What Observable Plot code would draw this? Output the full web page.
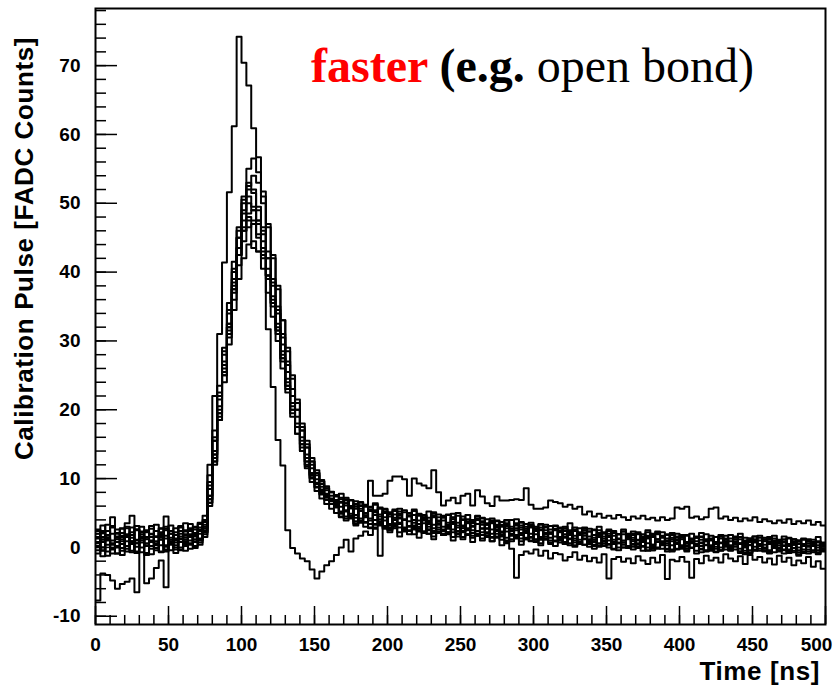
<!DOCTYPE html>
<html>
<head>
<meta charset="utf-8">
<script src="https://cdn.jsdelivr.net/npm/d3@7"></script>
<script src="https://cdn.jsdelivr.net/npm/@observablehq/plot@0.6"></script>
<style>
  html, body { margin: 0; padding: 0; background: #fff; }
  #chart svg { display: block; }
</style>
</head>
<body>
<div id="chart"></div>
<script>
// ---- Data: calibration pulses, 150 bins of 500/150 ns each ----
const nBins = 150;
const timeMax = 500;

const fastPulse = [
  -7.7,-3.8,-4.0,-4.8,-6.0,-5.3,-5.0,-4.5,-6.5,1.5,
  -5.2,-4.5,-3.0,-1.9,-5.8,0.5,1.2,-0.4,0.8,1.5,
  0.2,1.0,2.2,12,22,31,41.4,51.6,61.2,74.2,
  70.4,67.1,60.9,56.7,51.7,31.7,23.3,15.6,11.9,2.5,
  -0.1,-0.9,-1.6,-2.0,-3.2,-4.5,-3.5,-2.6,-2.0,-1.1,
  0.0,1.1,-0.6,1.3,1.7,2.3,1.8,2.9,3.5,2.7,
  2.2,3.0,1.6,2.5,1.9,2.8,1.4,2.3,2.0,1.2,
  2.6,1.8,2.1,1.0,2.4,1.5,1.9,0.8,2.0,1.3,
  1.7,0.9,1.5,1.9,0.6,1.2,1.6,0.4,1.4,0.9,
  1.1,0.3,1.3,0.7,0.2,1.0,0.5,1.2,0.1,0.8,
  0.4,1.0,-0.2,0.6,0.9,0.0,0.5,-0.4,0.7,0.2,
  -0.3,0.6,0.1,-0.5,0.4,0.8,-0.2,0.3,-0.6,0.5,
  0.0,-0.4,0.6,0.2,-0.7,0.3,-0.1,0.5,-0.5,0.1,
  -0.3,0.4,-0.8,0.0,0.3,-0.5,0.2,-0.2,-0.9,0.1,
  -0.4,0.3,-0.6,-0.1,-1.0,0.2,-0.3,-0.7,0.0,-0.5
];

const pulseA = [
  2.6,-0.4,1.8,3.1,0.2,-1.1,1.5,2.9,0.6,1.9,
  -0.8,0.9,3.3,1.2,-0.3,2.4,0.7,1.6,3.5,0.4,
  2.1,3.4,1.5,6.5,12.5,19,25.5,32,39,45,
  51,55,56.5,54.5,51,47,42.5,38,33,28.5,
  24.5,21,17.5,15,12.5,10.8,9.6,8.6,8.0,7.5,
  7.8,5.2,6.9,4.3,6.1,3.6,5.8,6.4,3.2,5.0,
  2.7,5.3,4.9,2.4,4.6,5.5,2.8,3.9,5.2,2.1,
  4.8,3.0,1.9,4.4,5.0,2.3,3.6,1.7,4.5,3.8,
  1.6,4.2,3.3,1.1,3.9,2.0,4.1,0.9,2.7,3.6,
  0.8,3.4,2.5,0.5,3.1,1.2,2.8,3.5,0.3,2.2,
  2.9,0.1,1.8,3.0,0.6,2.4,-0.3,1.9,2.6,0.2,
  2.3,1.0,-0.5,2.5,1.6,0.0,2.2,-0.6,1.4,2.0,
  -0.2,1.7,0.9,-0.9,2.1,0.4,1.2,-0.7,1.8,0.5,
  -0.4,1.5,2.0,-1.0,0.8,1.6,-0.2,1.1,-0.8,1.7,
  0.3,-0.9,1.4,0.6,-1.2,1.3,0.1,-0.5,1.5,-0.3
];

const pulseB = [
  0.1,2.2,1.4,-0.9,0.8,2.7,1.9,-0.5,1.1,3.0,
  1.5,-0.2,2.4,0.3,1.7,3.2,0.0,2.0,0.9,2.6,
  0.8,2.9,3.7,8.5,15.5,22,28,34.5,40.5,46,
  50.5,53,52,49.5,46,42,38,34,29.5,25.5,
  22,19,16,13.5,11.5,9.9,8.8,7.8,7.1,6.6,
  4.9,6.8,4.4,6.2,3.8,5.9,3.4,5.1,5.6,2.9,
  5.0,3.3,4.7,5.4,2.5,3.6,4.9,2.2,4.3,4.6,
  2.1,3.9,4.7,2.6,3.2,4.5,1.8,3.7,2.4,4.2,
  3.5,1.5,3.8,2.2,3.1,4.0,1.3,2.9,3.4,1.0,
  2.6,3.3,1.1,2.0,3.2,0.7,2.4,1.3,2.9,0.6,
  1.7,2.7,0.4,2.1,1.0,2.6,0.8,0.0,2.3,1.4,
  0.1,2.0,1.2,-0.4,1.8,2.3,0.3,1.0,2.1,-0.3,
  1.5,0.6,2.0,-0.5,1.1,1.9,0.2,-0.6,1.6,0.9,
  1.8,-0.3,0.5,1.4,-0.7,1.2,1.7,0.0,-0.4,1.3,
  0.7,1.6,-0.8,0.4,1.0,-0.6,1.2,0.8,-1.0,0.6
];

const pulseC = [
  1.3,0.0,-1.2,2.0,1.6,-0.1,2.8,0.5,1.0,2.3,
  0.2,1.9,0.6,-0.7,2.5,1.1,0.3,2.9,1.4,-0.2,
  1.8,2.5,4.6,10.5,17,23.5,29,35.5,41.5,46.5,
  50,51,49.5,47,43.5,39.5,35.5,31.5,27.5,23.5,
  20,17.5,14.5,12,10.2,8.8,7.9,7.2,6.7,6.0,
  6.5,4.2,5.7,3.5,6.0,4.9,2.9,5.3,4.1,5.6,
  2.9,4.8,3.4,2.5,4.6,4.0,2.3,4.4,3.0,4.5,
  3.9,1.8,3.6,4.3,2.0,2.8,4.1,2.5,1.7,3.6,
  2.8,3.9,1.6,3.2,2.3,0.9,3.4,2.6,1.2,3.1,
  1.9,0.6,2.9,2.2,0.9,2.7,1.4,0.3,2.5,1.8,
  0.4,2.3,1.1,0.1,2.0,1.5,-0.2,1.9,0.7,1.2,
  2.0,-0.1,1.0,1.7,-0.4,0.8,1.5,0.6,-0.3,1.6,
  1.2,-0.6,0.9,1.4,0.2,-0.5,1.7,0.6,0.0,1.3,
  -0.5,0.6,1.5,0.2,-0.9,1.0,0.4,1.4,-0.6,0.5,
  1.1,-0.3,0.2,1.2,-0.7,0.5,0.9,-0.4,0.8,0.1
];

const pulseD = [
  -0.4,1.1,2.4,0.6,-0.9,1.5,0.9,2.2,-0.6,0.7,
  2.5,1.0,-0.4,1.8,2.7,0.4,-0.8,1.2,2.3,1.9,
  -0.1,2.0,2.2,7.5,14,20.5,26.5,32.5,38.5,43.5,
  47.5,50,49,47.5,44.5,40.5,36.5,32.5,28.5,24.5,
  21,18,15.5,13,10.8,9.4,8.4,7.5,6.9,6.4,
  5.2,7.0,4.6,5.6,6.1,3.7,5.5,4.0,3.3,5.2,
  4.5,2.8,4.2,5.1,3.1,2.9,4.8,3.5,2.6,4.4,
  2.9,4.5,3.1,2.2,4.6,2.4,3.5,4.0,1.9,3.3,
  4.1,2.0,2.4,3.7,1.4,3.0,3.5,1.8,2.1,3.3,
  1.2,2.5,3.0,1.4,1.6,2.9,0.8,2.3,2.6,0.5,
  2.2,1.0,2.5,0.3,1.6,2.4,0.5,1.2,2.3,-0.1,
  1.4,1.9,0.2,1.6,0.4,2.1,0.9,-0.2,1.8,0.7,
  0.3,1.8,-0.1,0.9,1.5,-0.4,1.1,0.5,1.6,-0.3,
  0.9,1.4,-0.6,0.7,1.3,0.1,-0.5,1.2,0.8,-0.7,
  1.0,0.2,1.3,-0.5,0.6,1.1,-0.9,0.7,0.3,-0.2
];

const pulseE = [
  2.0,1.2,-0.6,0.4,2.6,1.7,-0.2,0.9,3.1,1.3,
  0.3,-1.0,1.6,2.2,0.1,1.4,2.8,0.8,-0.5,1.5,
  3.0,1.3,1.9,6.5,12.5,19.5,25.5,31.5,37,42.5,
  46.5,48.5,49,47.5,45.5,42,38.5,34.5,30.5,26.5,
  23,20,17,14.5,12,10.5,9.2,8.3,7.5,6.9,
  7.2,5.4,4.6,6.7,4.2,6.0,5.3,3.4,5.8,3.9,
  3.2,5.5,4.4,2.7,5.0,3.1,4.6,2.3,3.9,5.1,
  3.5,2.4,4.8,3.7,2.0,4.1,2.8,3.5,4.6,1.8,
  3.3,2.6,3.9,1.6,3.5,1.9,2.5,3.6,1.2,2.9,
  3.0,1.5,1.9,3.1,0.9,2.2,2.7,0.6,1.7,2.8,
  1.2,0.5,2.6,1.8,0.2,2.0,1.1,1.9,0.0,1.4,
  1.8,0.4,1.3,2.2,-0.1,1.2,0.7,1.8,-0.4,1.0,
  1.5,0.1,0.7,1.6,-0.3,1.0,1.3,-0.2,0.6,1.7,
  0.0,0.9,1.2,-0.8,0.4,1.6,0.3,-0.4,1.1,0.8,
  -0.6,0.9,0.5,1.2,-0.4,0.3,1.0,0.6,-0.8,0.4
];

const pulseG = [
  0.6,2.4,1.0,-0.3,1.4,2.1,0.2,1.8,2.5,-0.7,
  1.2,2.0,0.5,1.1,3.0,0.8,-0.3,2.4,1.7,0.6,
  2.6,1.1,3.0,7.5,13.5,19.5,25,30.5,36,41,
  44.5,46.5,47,45,42.5,39,35,31,27,23.5,
  20,17.5,15,12.5,10.5,9.2,8.2,7.4,6.8,6.2,
  6.6,4.5,5.8,6.3,3.9,4.6,5.9,3.3,4.8,5.1,
  3.4,4.1,5.2,2.9,3.8,4.7,2.5,4.2,3.4,2.8,
  4.4,2.6,3.3,4.9,2.3,3.0,3.8,2.1,4.0,2.7,
  2.2,3.6,2.9,1.7,3.3,2.4,1.5,3.2,2.7,1.4,
  2.8,1.1,2.1,2.6,1.0,2.4,1.6,2.2,0.7,1.9,
  2.5,0.8,1.4,2.0,0.3,1.7,2.1,0.6,1.0,2.0,
  0.4,1.1,1.9,0.0,1.5,0.9,1.7,-0.3,1.2,0.6,
  1.6,0.2,0.8,1.4,-0.2,0.9,0.3,1.5,-0.4,0.8,
  1.3,0.1,0.6,-0.5,1.1,0.7,1.4,-0.1,0.5,1.0,
  -0.2,0.8,0.4,-0.7,1.0,0.2,0.6,1.1,-0.5,0.7
];

const pulseH = [
  1.5,3.2,0.4,1.0,2.1,-0.5,1.8,0.9,2.6,0.0,
  1.4,2.7,0.9,-0.6,1.3,2.0,1.0,3.1,0.2,1.7,
  1.2,2.4,3.3,9,15.5,21.5,27,32.5,38,42.5,
  46,47.5,43.5,43,42,39.5,36,32,28,24,
  20.5,17.5,15,12.5,10.6,9.3,8.3,7.6,7.0,6.4,
  5.0,6.4,5.7,3.8,5.6,4.4,3.9,5.4,4.5,3.1,
  5.1,4.3,2.9,4.0,4.9,3.2,3.0,4.6,3.7,2.4,
  3.8,4.3,2.2,3.4,2.9,4.0,2.5,3.1,4.2,2.2,
  2.7,3.5,2.0,3.3,2.8,1.7,3.2,2.1,3.0,1.5,
  2.4,2.9,1.3,2.0,2.6,1.2,1.9,2.5,1.0,2.1,
  1.3,2.3,0.9,1.5,2.2,0.4,1.7,1.3,0.4,1.8,
  1.1,-0.1,1.6,1.3,0.2,1.9,0.5,1.3,0.9,-0.2,
  1.4,0.8,0.0,1.5,0.6,1.2,-0.5,0.8,1.3,0.3,
  -0.1,1.2,0.6,1.0,-0.4,0.9,0.5,-0.6,1.3,0.2,
  0.8,-0.4,0.5,1.1,0.0,-0.3,0.9,0.2,0.7,-0.6
];

const pulseI = [
  0.8,-0.5,1.7,2.9,0.0,1.2,3.0,0.7,-0.8,1.6,
  2.3,0.2,1.5,2.8,-0.4,0.9,2.2,1.3,0.5,2.8,
  1.9,0.7,2.8,6.0,12,18.5,25,31,37.5,43.5,
  48.5,52.5,54,53,50,46.5,42,37.5,33,29,
  25,21.5,18,15.5,13,11.2,9.8,8.9,8.1,7.4,
  5.9,7.2,6.0,4.7,6.5,5.0,4.2,6.2,3.8,5.5,
  4.8,3.5,5.6,4.1,3.0,5.3,3.9,4.7,2.6,4.9,
  3.3,4.6,2.7,4.1,3.6,2.2,4.7,3.0,3.4,4.3,
  2.0,3.8,3.1,2.3,4.0,2.7,1.8,3.7,2.2,3.2,
  2.7,1.3,3.3,2.1,2.5,1.4,3.0,1.8,2.4,1.1,
  2.7,1.6,0.8,2.5,1.3,1.0,2.4,0.6,1.9,1.5,
  0.5,2.2,0.8,1.4,2.0,-0.2,1.4,1.9,0.3,1.1,
  1.8,0.3,1.2,0.5,1.6,0.9,-0.3,1.5,0.7,1.1,
  0.2,1.6,-0.2,0.9,1.3,-0.4,1.0,0.4,1.5,-0.1,
  0.6,1.2,-0.3,0.8,0.5,1.2,-0.6,0.4,0.9,0.1
];

const pulseJ = [
  -0.9,0.8,1.3,-0.2,2.0,0.5,-0.6,1.4,0.1,2.2,
  0.6,1.5,-0.1,2.1,0.3,-0.4,1.8,0.0,1.1,2.4,
  0.9,2.6,2.7,7.0,13,18.5,24,29.5,34.5,39,
  42,44,44.5,43,40.5,37,33.5,30,26,22.5,
  19,16.5,14,11.8,10.0,8.7,7.7,6.9,6.3,5.8,
  4.4,6.1,4.9,3.2,5.3,4.6,2.8,4.7,3.6,4.4,
  2.5,4.0,3.6,2.3,4.5,2.6,3.4,4.1,2.0,3.3,
  3.8,2.0,2.9,3.5,1.6,3.2,2.6,3.9,1.8,2.8,
  3.3,1.4,2.6,3.0,1.0,2.5,2.8,1.3,2.4,2.0,
  0.9,2.6,1.6,1.0,2.7,1.5,0.5,2.0,1.3,0.6,
  2.0,1.2,0.2,1.8,0.9,0.5,2.1,0.7,0.0,1.6,
  0.9,0.1,1.5,0.6,-0.4,1.2,0.5,0.9,-0.5,1.4,
  0.2,-0.2,1.3,0.4,0.7,-0.6,1.0,0.1,-0.4,1.2,
  0.3,0.8,-0.6,0.5,1.0,-0.3,0.2,0.9,-0.7,0.6,
  0.0,0.7,-0.5,0.4,0.9,-0.8,0.3,0.5,-0.4,0.2
];

const lowPulse = [
  0.2,-1.3,1.1,0.5,-0.9,0.9,1.6,-0.7,0.6,1.3,
  -1.1,0.8,0.3,1.5,-0.6,0.7,1.2,-0.3,1.9,1.0,
  1.6,0.4,2.4,7,13.5,20,26,32,37.5,42.5,
  46,48,47.5,45.5,43,39.5,35.5,31.5,27.5,23,
  19.5,16.5,14,11.5,9.5,8.2,7.1,6.3,5.6,5.0,
  4.5,3.9,4.2,3.4,3.6,3.0,3.4,2.7,-1.2,3.0,
  2.6,3.1,2.2,2.8,2.4,1.9,2.7,2.1,2.5,1.6,
  2.3,1.8,2.2,1.5,2.0,1.2,1.9,1.4,1.7,1.0,
  1.5,0.9,1.4,0.3,0.8,-0.2,-4.4,-1.1,-0.6,-0.9,
  -0.3,-1.2,-0.5,-1.6,-0.8,-1.0,-1.9,-1.4,-0.7,-1.8,
  -1.2,-2.0,-1.5,-2.2,-1.0,-4.5,-1.7,-1.4,-2.1,-1.6,
  -2.3,-1.3,-1.9,-2.4,-1.5,-2.2,-1.1,-4.6,-1.8,-2.0,
  -1.4,-2.1,-4.4,-1.7,-2.3,-1.2,-1.9,-1.5,-2.2,-1.0,
  -1.6,-2.0,-1.3,-2.4,-1.1,-1.8,-1.4,-2.2,-1.6,-2.5,
  -1.2,-2.1,-1.5,-2.6,-1.9,-2.3,-1.4,-2.8,-2.0,-3.1
];

const bumpPulse = [
  2.4,1.5,3.3,4.4,1.2,2.8,3.5,4.6,2.6,1.0,
  2.2,3.1,1.6,2.7,4.5,2.0,1.3,3.0,2.5,3.4,
  2.9,3.6,4.0,9.5,16,22.5,28.5,34,40,45,
  49,52,51.5,49,46.5,43,39,35,31,27,
  23,20,17,14.5,12.5,10.8,9.6,8.6,8.0,7.6,
  7.0,6.4,6.8,5.9,6.6,6.2,9.7,7.5,7.5,7.8,
  9.7,10.3,10.3,9.9,7.5,10.0,9.3,9.0,8.6,11.2,
  8.0,6.1,6.8,7.2,6.4,7.5,7.8,6.1,8.3,7.4,
  6.4,6.0,7.4,6.8,6.8,6.9,7.0,6.9,8.6,6.2,
  5.6,5.6,5.8,6.8,6.6,6.4,5.9,6.2,5.6,5.9,
  4.8,5.2,4.5,4.9,4.3,4.6,4.2,4.7,4.4,4.0,
  4.5,4.2,4.6,4.1,4.3,3.9,4.4,4.0,4.2,5.8,
  5.6,5.9,4.3,4.5,4.1,4.4,5.6,5.8,4.2,4.5,
  4.0,4.3,3.8,4.2,3.9,4.4,3.7,4.1,3.8,3.5,
  3.9,3.6,4.1,3.4,3.8,3.5,3.9,3.3,3.7,3.2
];

const xTickLabels = [0, 50, 100, 150, 200, 250, 300, 350, 400, 450, 500];
const yTickLabels = [-10, 0, 10, 20, 30, 40, 50, 60, 70];
const xMinorTicks = d3.range(0, 501, 10);
const yMinorTicks = d3.range(-10, 79, 2);

const xTitle = "Time [ns]";
const yTitle = "Calibration Pulse [FADC Counts]";

// ---- Build long table (step histogram, closing edge at the last bin) ----
const seriesList = {fastPulse, pulseA, pulseB, pulseC, pulseD, pulseE, pulseG, pulseH, pulseI, pulseJ, lowPulse, bumpPulse};
const binWidth = timeMax / nBins;
const rows = [];
for (const [name, vals] of Object.entries(seriesList)) {
  vals.forEach((v, i) => rows.push({name, t: i * binWidth, v}));
  rows.push({name, t: vals.length * binWidth, v: vals[vals.length - 1]});
}

// ---- Layout ----
const W = 834, H = 690;
const mL = 95, mR = 9, mT = 8, mB = 66;
const frameW = W - mL - mR, frameH = H - mT - mB;
const sansBold = {fontFamily: "'Liberation Sans', Arial, Helvetica, sans-serif", fontWeight: "bold"};

const chart = Plot.plot({
  width: W, height: H,
  marginLeft: mL, marginRight: mR, marginTop: mT, marginBottom: mB,
  x: {domain: [0, 500]},
  y: {domain: [-11.2, 78.3]},
  style: {background: "white", color: "black", fontFamily: "'Liberation Sans', Arial, sans-serif"},
  marks: [
    Plot.line(rows, {x: "t", y: "v", z: "name", curve: "step-after", stroke: "black", strokeWidth: 2, clip: true}),
    Plot.tickX(xMinorTicks, {x: d => d, insetTop: frameH - 9, stroke: "black", strokeWidth: 1.5}),
    Plot.tickX(xTickLabels, {x: d => d, insetTop: frameH - 18, stroke: "black", strokeWidth: 1.5}),
    Plot.tickY(yMinorTicks, {y: d => d, insetRight: frameW - 11, stroke: "black", strokeWidth: 1.5}),
    Plot.tickY(yTickLabels, {y: d => d, insetRight: frameW - 22, stroke: "black", strokeWidth: 1.5}),
    Plot.axisX({ticks: xTickLabels.slice(0, -1), tickFormat: d => String(d), tickSize: 0, tickPadding: 13, fontSize: 19, ...sansBold, label: null}),
    Plot.axisX({ticks: xTickLabels.slice(-1), tickFormat: d => String(d), tickSize: 0, tickPadding: 13, fontSize: 19, dx: -9, ...sansBold, label: null}),
    Plot.axisY({ticks: yTickLabels, tickFormat: d => String(d), tickSize: 0, tickPadding: 15, fontSize: 19, ...sansBold, label: null}),
    Plot.frame({stroke: "black", strokeWidth: 2})
  ]
});

document.getElementById("chart").appendChild(chart);

// ---- Titles and annotation ----
const svg = d3.select(chart);
svg.append("text")
  .attr("x", W - 14).attr("y", H - 10)
  .attr("text-anchor", "end")
  .attr("font-family", "'Liberation Sans', Arial, sans-serif")
  .attr("font-weight", "bold").attr("font-size", 26)
  .attr("letter-spacing", "0.6px")
  .attr("fill", "black")
  .text(xTitle);

svg.append("text")
  .attr("transform", "translate(33,37) rotate(-90)")
  .attr("text-anchor", "end")
  .attr("font-family", "'Liberation Sans', Arial, sans-serif")
  .attr("font-weight", "bold").attr("font-size", 26)
  .attr("letter-spacing", "0.6px")
  .attr("fill", "black")
  .text(yTitle);

const note = svg.append("text")
  .attr("x", 311).attr("y", 82)
  .attr("text-anchor", "start")
  .attr("font-family", "'Liberation Serif', 'Times New Roman', serif")
  .attr("font-size", 48)
  .attr("fill", "black");
note.append("tspan").attr("font-weight", "bold").attr("fill", "#ff0000").text("faster");
note.append("tspan").attr("font-weight", "bold").text(" (e.g.");
note.append("tspan").attr("font-weight", "normal").text(" open bond)");
</script>
</body>
</html>
